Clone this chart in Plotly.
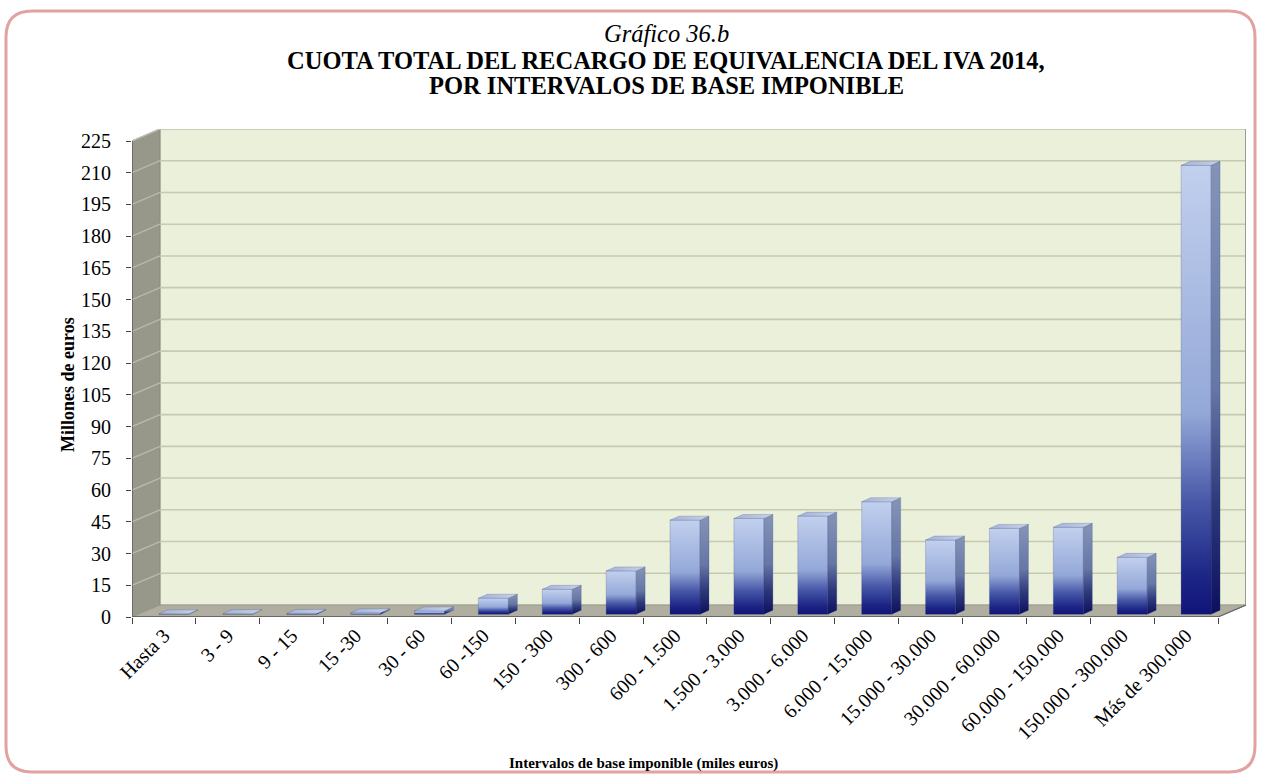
import plotly.graph_objects as go

# Cuota total del recargo de equivalencia del IVA 2014 (millones de euros)
categorias = ["Hasta 3", "3 - 9", "9 - 15", "15 -30", "30 - 60", "60 -150",
              "150 - 300", "300 - 600", "600 - 1.500", "1.500 - 3.000",
              "3.000 - 6.000", "6.000 - 15.000", "15.000 - 30.000",
              "30.000 - 60.000", "60.000 - 150.000", "150.000 - 300.000",
              "Más de 300.000"]
cuota = [0.2, 0.3, 0.4, 0.7, 1.6, 7.6, 11.8, 20.5, 44.5, 45.3, 46.4,
         53.2, 35.1, 40.6, 41.1, 26.9, 212.2]
y_ticks = list(range(0, 226, 15))

FONT = "Liberation Serif"
W, H = 1262, 776
ML, MR, MT, MB = 132, 16, 129, 159

n = len(categorias)
YMAX = 225
# depth of the pseudo-3D box (in axis units)
D, DY = 0.438, 5.67
# bar geometry: front offset, half width, base lift, bar depth
FX, HW, BY, BDX, BDY = 0.157, 0.235, 1.28, 0.14, 1.9

xr0, xr1 = -0.5, n - 0.5 + D
yr0, yr1 = 0, YMAX + DY

pw = W - ML - MR
ph = H - MT - MB


def px_to_paper(px, py):
    return (px - ML) / pw, (H - MB - py) / ph


fig = go.Figure()
shapes = []

# back wall
shapes.append(dict(type="rect", xref="x", yref="y", layer="below",
                   x0=xr0 + D, x1=n - 0.5 + D, y0=DY, y1=YMAX + DY,
                   fillcolor="#eaf0d9", line=dict(color="#c9cbbd", width=1.5)))
# left wall
shapes.append(dict(type="path", xref="x", yref="y", layer="below",
                   path=f"M {xr0},0 L {xr0 + D},{DY} L {xr0 + D},{YMAX + DY} L {xr0},{YMAX} Z",
                   fillcolor="#97978a", line=dict(color="#8a8a7e", width=1)))
# floor
shapes.append(dict(type="path", xref="x", yref="y", layer="below",
                   path=f"M {xr0},0 L {n - 0.5},0 L {n - 0.5 + D},{DY} L {xr0 + D},{DY} Z",
                   fillcolor="#afaea0", line=dict(color="#9a9a8e", width=1)))

# grid lines on the back wall and the left wall
for v in y_ticks[1:]:
    shapes.append(dict(type="line", xref="x", yref="y", layer="below",
                       x0=xr0 + D, x1=n - 0.5 + D, y0=v + DY, y1=v + DY,
                       line=dict(color="#c6caaf", width=1.6)))
    shapes.append(dict(type="line", xref="x", yref="y", layer="below",
                       x0=xr0, x1=xr0 + D, y0=v, y1=v + DY,
                       line=dict(color="#b9b9ac", width=1.4)))

# right edge of the back wall
shapes.append(dict(type="line", xref="x", yref="y", layer="below",
                   x0=n - 0.5 + D, x1=n - 0.5 + D, y0=DY, y1=YMAX + DY,
                   line=dict(color="#9c9c92", width=2)))

# front edges (axis lines)
shapes.append(dict(type="line", xref="x", yref="y",
                   x0=xr0, x1=xr0, y0=0, y1=YMAX,
                   line=dict(color="#555555", width=1.2)))
shapes.append(dict(type="line", xref="x", yref="y",
                   x0=xr0, x1=n - 0.5, y0=0, y1=0,
                   line=dict(color="#555555", width=1.5)))
shapes.append(dict(type="line", xref="x", yref="y",
                   x0=n - 0.5, x1=n - 0.5 + D, y0=0, y1=DY,
                   line=dict(color="#666666", width=1.2)))

front_scale = [[0.0, "#10147a"], [0.08, "#1b2485"], [0.25, "#4858a8"],
               [0.45, "#94a8d8"], [1.0, "#c2d0ee"]]
side_scale = [[0.0, "#0c105e"], [0.25, "#2e3a7c"], [0.5, "#6676a6"], [1.0, "#8494b8"]]
top_scale = [[0.0, "#a3b3d9"], [1.0, "#c6d2ea"]]


def face(xs, ys, scale, orient="vertical"):
    return go.Scatter(x=xs, y=ys, mode="lines", fill="toself",
                      line=dict(width=0.6, color="rgba(40,50,110,0.35)"),
                      fillgradient=dict(type=orient, colorscale=scale),
                      hoverinfo="skip", showlegend=False)


for i, v in enumerate(cuota):
    xl, xr = i + FX - HW, i + FX + HW
    yb, yt = BY, BY + v
    fig.add_trace(face([xl, xr, xr, xl, xl], [yb, yb, yt, yt, yb], front_scale))
    fig.add_trace(face([xr, xr + BDX, xr + BDX, xr, xr],
                       [yb, yb + BDY, yt + BDY, yt, yb], side_scale))
    fig.add_trace(face([xl, xr, xr + BDX, xl + BDX, xl],
                       [yt, yt, yt + BDY, yt + BDY, yt], top_scale, "horizontal"))

# rounded frame around the whole chart
bx0, by0, bx1, by1, rr = 6, 11, 1255, 772, 26
def P(px, py):
    a, b = px_to_paper(px, py)
    return f"{a:.5f},{b:.5f}"
frame = (f"M {P(bx0 + rr, by0)} L {P(bx1 - rr, by0)} Q {P(bx1, by0)} {P(bx1, by0 + rr)} "
         f"L {P(bx1, by1 - rr)} Q {P(bx1, by1)} {P(bx1 - rr, by1)} "
         f"L {P(bx0 + rr, by1)} Q {P(bx0, by1)} {P(bx0, by1 - rr)} "
         f"L {P(bx0, by0 + rr)} Q {P(bx0, by0)} {P(bx0 + rr, by0)} Z")
shapes.append(dict(type="path", xref="paper", yref="paper", path=frame,
                   line=dict(color="#e2a3a0", width=3), layer="below"))

annotations = []
def text_at(px, py, txt, size, **kw):
    a, b = px_to_paper(px, py)
    annotations.append(dict(x=a, y=b, xref="paper", yref="paper", text=txt,
                            showarrow=False, xanchor="center", yanchor="middle",
                            font=dict(family=FONT, size=size, color="black"), **kw))

text_at(666, 34, "<i>Gráfico 36.b</i>", 24.5)
text_at(666, 61, "<b>CUOTA TOTAL DEL RECARGO DE EQUIVALENCIA DEL IVA 2014,</b>", 24.5)
text_at(666, 85, "<b>POR INTERVALOS DE BASE IMPONIBLE</b>", 24.5)
text_at(68, 385, "<b>Millones de euros</b>", 18, textangle=-90)
text_at(643, 763, "<b>Intervalos de base imponible (miles euros)</b>", 15)

fig.update_layout(
    width=W, height=H, autosize=False,
    margin=dict(l=ML, r=MR, t=MT, b=MB),
    paper_bgcolor="white", plot_bgcolor="rgba(0,0,0,0)",
    shapes=shapes, annotations=annotations, showlegend=False,
    xaxis=dict(range=[xr0, xr1], tickmode="array", tickvals=list(range(n)),
               ticktext=categorias, tickangle=-45, ticks="", showgrid=False,
               zeroline=False, showline=False, ticklabelstandoff=2,
               tickfont=dict(family=FONT, size=20, color="black"),
               minor=dict(tickmode="linear", tick0=-0.5, dtick=1, ticks="outside",
                          ticklen=6, tickcolor="#444444", tickwidth=1, showgrid=False),
               fixedrange=True),
    yaxis=dict(range=[yr0, yr1], tickmode="array", tickvals=y_ticks,
               ticks="outside", ticklen=5, tickcolor="#444444", tickwidth=1,
               showgrid=False, zeroline=False, showline=False, ticklabelstandoff=11,
               tickfont=dict(family=FONT, size=20, color="black"),
               fixedrange=True),
)

fig.write_html("out.html")
